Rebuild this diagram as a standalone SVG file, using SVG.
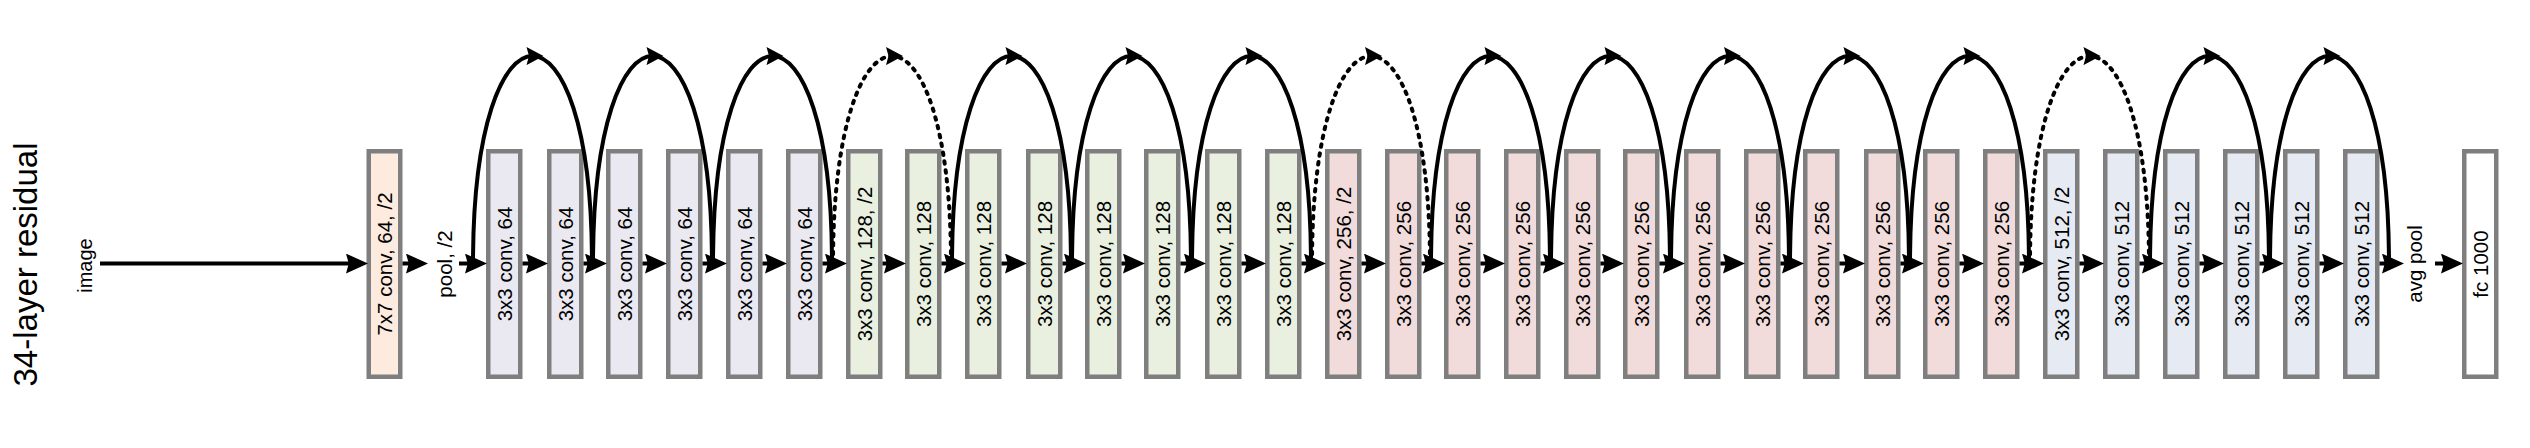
<svg xmlns="http://www.w3.org/2000/svg" width="2530" height="448" viewBox="0 0 2530 448">
<style>
  .box{stroke:#7f7f7f;stroke-width:4.5}
  .c7{fill:#fcebde}
  .c64{fill:#eae8f0}
  .c128{fill:#e9f0e0}
  .c256{fill:#f2dcdb}
  .c512{fill:#e6ebf3}
  .cfc{fill:#ffffff}
  .t{font-family:"Liberation Sans",Arial,sans-serif;font-size:20.5px;fill:#000;text-anchor:middle}
  .main{stroke:#000;stroke-width:4;fill:none;marker-end:url(#ah)}
  .arc{stroke:#000;stroke-width:4;fill:none;marker-mid:url(#ahTop)}
  .dot{stroke-dasharray:2.5 6.5;stroke-linecap:round}
</style>
<defs>
  <marker id="ah" markerUnits="userSpaceOnUse" markerWidth="22" markerHeight="20" viewBox="0 0 20 18" refX="10" refY="9" orient="auto">
    <path d="M0,0 L20,9 L0,18 L2.5,9 z" fill="#000"/>
  </marker>
  <marker id="ahTop" markerUnits="userSpaceOnUse" markerWidth="18" markerHeight="18" viewBox="0 0 17 18" refX="6" refY="9" orient="auto">
    <path d="M0,0 L17,9 L0,18 L2.5,9 z" fill="#000"/>
  </marker>
</defs>
<rect width="2530" height="448" fill="#fff"/>

<g id="title">
  <text x="0" y="0" transform="translate(37,264.5) rotate(-90)" style="font-family:'Liberation Sans',Arial,sans-serif;font-size:33px;text-anchor:middle" fill="#000">34-layer residual</text>
</g>
<g id="image">
  <text x="0" y="0" transform="translate(92,265.5) rotate(-90)" class="t" style="font-size:20px">image</text>
</g>
<g id="conv7">
  <rect class="box c7" x="368.75" y="151.25" width="31.5" height="225.5"/>
  <text class="t" transform="translate(392,264) rotate(-90)">7x7 conv, 64, /2</text>
</g>
<g id="pool">
  <text class="t" transform="translate(452,264) rotate(-90)">pool, /2</text>
</g>

<g id="b0"><rect class="box c64" x="488.25" y="151.25" width="32" height="225.5"/><text class="t" transform="translate(511.5,264) rotate(-90)">3x3 conv, 64</text></g>
<g id="b1"><rect class="box c64" x="549.25" y="151.25" width="32" height="225.5"/><text class="t" transform="translate(572.5,264) rotate(-90)">3x3 conv, 64</text></g>
<g id="b2"><rect class="box c64" x="608.25" y="151.25" width="32" height="225.5"/><text class="t" transform="translate(631.5,264) rotate(-90)">3x3 conv, 64</text></g>
<g id="b3"><rect class="box c64" x="668.25" y="151.25" width="32" height="225.5"/><text class="t" transform="translate(691.5,264) rotate(-90)">3x3 conv, 64</text></g>
<g id="b4"><rect class="box c64" x="728.25" y="151.25" width="32" height="225.5"/><text class="t" transform="translate(751.5,264) rotate(-90)">3x3 conv, 64</text></g>
<g id="b5"><rect class="box c64" x="788.25" y="151.25" width="32" height="225.5"/><text class="t" transform="translate(811.5,264) rotate(-90)">3x3 conv, 64</text></g>

<g id="b6"><rect class="box c128" x="848.25" y="151.25" width="32" height="225.5"/><text class="t" transform="translate(871.5,264) rotate(-90)">3x3 conv, 128, /2</text></g>
<g id="b7"><rect class="box c128" x="907.25" y="151.25" width="32" height="225.5"/><text class="t" transform="translate(930.5,264) rotate(-90)">3x3 conv, 128</text></g>
<g id="b8"><rect class="box c128" x="967.25" y="151.25" width="32" height="225.5"/><text class="t" transform="translate(990.5,264) rotate(-90)">3x3 conv, 128</text></g>
<g id="b9"><rect class="box c128" x="1028.25" y="151.25" width="32" height="225.5"/><text class="t" transform="translate(1051.5,264) rotate(-90)">3x3 conv, 128</text></g>
<g id="b10"><rect class="box c128" x="1087.25" y="151.25" width="32" height="225.5"/><text class="t" transform="translate(1110.5,264) rotate(-90)">3x3 conv, 128</text></g>
<g id="b11"><rect class="box c128" x="1146.25" y="151.25" width="32" height="225.5"/><text class="t" transform="translate(1169.5,264) rotate(-90)">3x3 conv, 128</text></g>
<g id="b12"><rect class="box c128" x="1207.25" y="151.25" width="32" height="225.5"/><text class="t" transform="translate(1230.5,264) rotate(-90)">3x3 conv, 128</text></g>
<g id="b13"><rect class="box c128" x="1267.25" y="151.25" width="32" height="225.5"/><text class="t" transform="translate(1290.5,264) rotate(-90)">3x3 conv, 128</text></g>

<g id="b14"><rect class="box c256" x="1327.25" y="151.25" width="32" height="225.5"/><text class="t" transform="translate(1350.5,264) rotate(-90)">3x3 conv, 256, /2</text></g>
<g id="b15"><rect class="box c256" x="1387.25" y="151.25" width="32" height="225.5"/><text class="t" transform="translate(1410.5,264) rotate(-90)">3x3 conv, 256</text></g>
<g id="b16"><rect class="box c256" x="1446.25" y="151.25" width="32" height="225.5"/><text class="t" transform="translate(1469.5,264) rotate(-90)">3x3 conv, 256</text></g>
<g id="b17"><rect class="box c256" x="1506.25" y="151.25" width="32" height="225.5"/><text class="t" transform="translate(1529.5,264) rotate(-90)">3x3 conv, 256</text></g>
<g id="b18"><rect class="box c256" x="1566.25" y="151.25" width="32" height="225.5"/><text class="t" transform="translate(1589.5,264) rotate(-90)">3x3 conv, 256</text></g>
<g id="b19"><rect class="box c256" x="1625.25" y="151.25" width="32" height="225.5"/><text class="t" transform="translate(1648.5,264) rotate(-90)">3x3 conv, 256</text></g>
<g id="b20"><rect class="box c256" x="1686.25" y="151.25" width="32" height="225.5"/><text class="t" transform="translate(1709.5,264) rotate(-90)">3x3 conv, 256</text></g>
<g id="b21"><rect class="box c256" x="1746.25" y="151.25" width="32" height="225.5"/><text class="t" transform="translate(1769.5,264) rotate(-90)">3x3 conv, 256</text></g>
<g id="b22"><rect class="box c256" x="1805.25" y="151.25" width="32" height="225.5"/><text class="t" transform="translate(1828.5,264) rotate(-90)">3x3 conv, 256</text></g>
<g id="b23"><rect class="box c256" x="1866.25" y="151.25" width="32" height="225.5"/><text class="t" transform="translate(1889.5,264) rotate(-90)">3x3 conv, 256</text></g>
<g id="b24"><rect class="box c256" x="1925.25" y="151.25" width="32" height="225.5"/><text class="t" transform="translate(1948.5,264) rotate(-90)">3x3 conv, 256</text></g>
<g id="b25"><rect class="box c256" x="1985.25" y="151.25" width="32" height="225.5"/><text class="t" transform="translate(2008.5,264) rotate(-90)">3x3 conv, 256</text></g>

<g id="b26"><rect class="box c512" x="2045.25" y="151.25" width="32" height="225.5"/><text class="t" transform="translate(2068.5,264) rotate(-90)">3x3 conv, 512, /2</text></g>
<g id="b27"><rect class="box c512" x="2105.25" y="151.25" width="32" height="225.5"/><text class="t" transform="translate(2128.5,264) rotate(-90)">3x3 conv, 512</text></g>
<g id="b28"><rect class="box c512" x="2165.25" y="151.25" width="32" height="225.5"/><text class="t" transform="translate(2188.5,264) rotate(-90)">3x3 conv, 512</text></g>
<g id="b29"><rect class="box c512" x="2225.25" y="151.25" width="32" height="225.5"/><text class="t" transform="translate(2248.5,264) rotate(-90)">3x3 conv, 512</text></g>
<g id="b30"><rect class="box c512" x="2285.25" y="151.25" width="32" height="225.5"/><text class="t" transform="translate(2308.5,264) rotate(-90)">3x3 conv, 512</text></g>
<g id="b31"><rect class="box c512" x="2345.25" y="151.25" width="32" height="225.5"/><text class="t" transform="translate(2368.5,264) rotate(-90)">3x3 conv, 512</text></g>

<g id="avgpool">
  <text class="t" transform="translate(2422,264) rotate(-90)">avg pool</text>
</g>
<g id="fc">
  <rect class="box cfc" x="2464.25" y="151.25" width="32" height="225.5"/>
  <text class="t" transform="translate(2487.5,264) rotate(-90)">fc 1000</text>
</g>

<g id="connectors">
  <line class="main" x1="100" y1="263.5" x2="357" y2="263.5"/>
  <line class="main" x1="402.5" y1="263.5" x2="417" y2="263.5"/>
  <line class="main" x1="459" y1="263.5" x2="476" y2="263.5"/>
  <line class="main" x1="522.5" y1="263.5" x2="537" y2="263.5"/>
  <line class="main" x1="583.5" y1="263.5" x2="596" y2="263.5"/>
  <line class="main" x1="642.5" y1="263.5" x2="656" y2="263.5"/>
  <line class="main" x1="702.5" y1="263.5" x2="716" y2="263.5"/>
  <line class="main" x1="762.5" y1="263.5" x2="776" y2="263.5"/>
  <line class="main" x1="822.5" y1="263.5" x2="836" y2="263.5"/>
  <line class="main" x1="882.5" y1="263.5" x2="895" y2="263.5"/>
  <line class="main" x1="941.5" y1="263.5" x2="955" y2="263.5"/>
  <line class="main" x1="1001.5" y1="263.5" x2="1016" y2="263.5"/>
  <line class="main" x1="1062.5" y1="263.5" x2="1075" y2="263.5"/>
  <line class="main" x1="1121.5" y1="263.5" x2="1134" y2="263.5"/>
  <line class="main" x1="1180.5" y1="263.5" x2="1195" y2="263.5"/>
  <line class="main" x1="1241.5" y1="263.5" x2="1255" y2="263.5"/>
  <line class="main" x1="1301.5" y1="263.5" x2="1315" y2="263.5"/>
  <line class="main" x1="1361.5" y1="263.5" x2="1375" y2="263.5"/>
  <line class="main" x1="1421.5" y1="263.5" x2="1434" y2="263.5"/>
  <line class="main" x1="1480.5" y1="263.5" x2="1494" y2="263.5"/>
  <line class="main" x1="1540.5" y1="263.5" x2="1554" y2="263.5"/>
  <line class="main" x1="1600.5" y1="263.5" x2="1613" y2="263.5"/>
  <line class="main" x1="1659.5" y1="263.5" x2="1674" y2="263.5"/>
  <line class="main" x1="1720.5" y1="263.5" x2="1734" y2="263.5"/>
  <line class="main" x1="1780.5" y1="263.5" x2="1793" y2="263.5"/>
  <line class="main" x1="1839.5" y1="263.5" x2="1854" y2="263.5"/>
  <line class="main" x1="1900.5" y1="263.5" x2="1913" y2="263.5"/>
  <line class="main" x1="1959.5" y1="263.5" x2="1973" y2="263.5"/>
  <line class="main" x1="2019.5" y1="263.5" x2="2033" y2="263.5"/>
  <line class="main" x1="2079.5" y1="263.5" x2="2093" y2="263.5"/>
  <line class="main" x1="2139.5" y1="263.5" x2="2153" y2="263.5"/>
  <line class="main" x1="2199.5" y1="263.5" x2="2213" y2="263.5"/>
  <line class="main" x1="2259.5" y1="263.5" x2="2273" y2="263.5"/>
  <line class="main" x1="2319.5" y1="263.5" x2="2333" y2="263.5"/>
  <line class="main" x1="2379.5" y1="263.5" x2="2393" y2="263.5"/>
  <line class="main" x1="2435" y1="263.5" x2="2452" y2="263.5"/>

  <path class="arc" d="M473,263.5 C473,125.25 502.75,56.1 532.5,56.1 C562.25,56.1 592,125.25 592,263.5"/>
  <path class="arc" d="M593,263.5 C593,125.25 622.75,56.1 652.5,56.1 C682.25,56.1 712,125.25 712,263.5"/>
  <path class="arc" d="M713,263.5 C713,125.25 742.75,56.1 772.5,56.1 C802.25,56.1 832,125.25 832,263.5"/>
  <path class="arc dot" d="M833,263.5 C833,125.25 862.5,56.1 892,56.1 C921.5,56.1 951,125.25 951,263.5"/>
  <path class="arc" d="M952,263.5 C952,125.25 981.75,56.1 1011.5,56.1 C1041.25,56.1 1071,125.25 1071,263.5"/>
  <path class="arc" d="M1072,263.5 C1072,125.25 1101.75,56.1 1131.5,56.1 C1161.25,56.1 1191,125.25 1191,263.5"/>
  <path class="arc" d="M1192,263.5 C1192,125.25 1221.75,56.1 1251.5,56.1 C1281.25,56.1 1311,125.25 1311,263.5"/>
  <path class="arc dot" d="M1312,263.5 C1312,125.25 1341.5,56.1 1371,56.1 C1400.5,56.1 1430,125.25 1430,263.5"/>
  <path class="arc" d="M1431,263.5 C1431,125.25 1460.75,56.1 1490.5,56.1 C1520.25,56.1 1550,125.25 1550,263.5"/>
  <path class="arc" d="M1551,263.5 C1551,125.25 1580.75,56.1 1610.5,56.1 C1640.25,56.1 1670,125.25 1670,263.5"/>
  <path class="arc" d="M1671,263.5 C1671,125.25 1700.5,56.1 1730,56.1 C1759.5,56.1 1789,125.25 1789,263.5"/>
  <path class="arc" d="M1790,263.5 C1790,125.25 1819.75,56.1 1849.5,56.1 C1879.25,56.1 1909,125.25 1909,263.5"/>
  <path class="arc" d="M1910,263.5 C1910,125.25 1939.75,56.1 1969.5,56.1 C1999.25,56.1 2029,125.25 2029,263.5"/>
  <path class="arc dot" d="M2030,263.5 C2030,125.25 2059.75,56.1 2089.5,56.1 C2119.25,56.1 2149,125.25 2149,263.5"/>
  <path class="arc" d="M2150,263.5 C2150,125.25 2179.75,56.1 2209.5,56.1 C2239.25,56.1 2269,125.25 2269,263.5"/>
  <path class="arc" d="M2270,263.5 C2270,125.25 2299.75,56.1 2329.5,56.1 C2359.25,56.1 2389,125.25 2389,263.5"/>
</g>
</svg>
